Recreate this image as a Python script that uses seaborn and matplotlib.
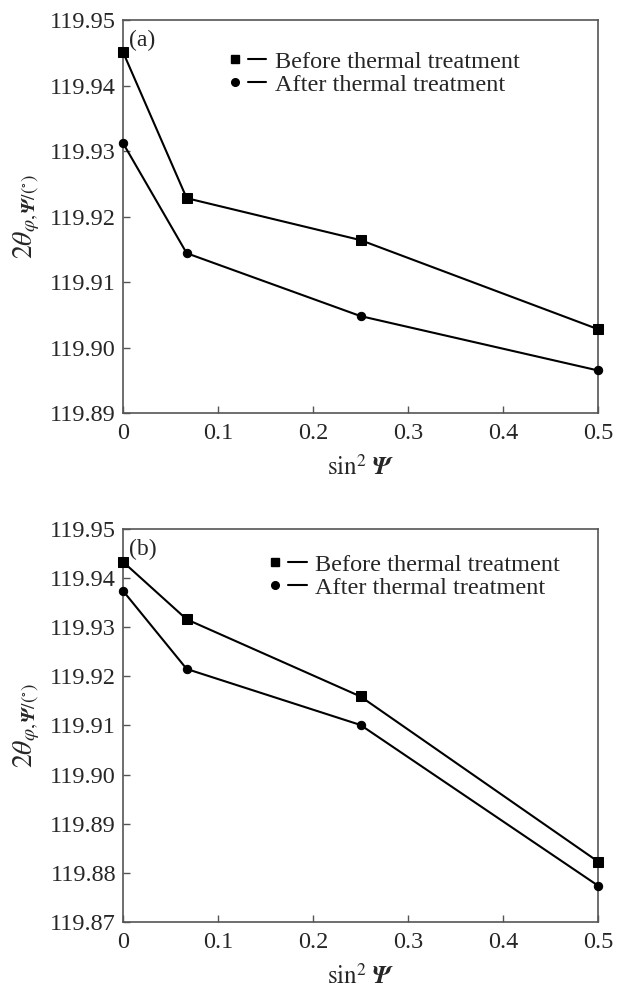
import matplotlib
matplotlib.use("Agg")
import matplotlib.pyplot as plt
import seaborn as sns
import pandas as pd
from matplotlib.lines import Line2D
from matplotlib.legend_handler import HandlerTuple

sns.set_theme(style="white")
plt.rcParams['font.family'] = ['Liberation Serif', 'DejaVu Serif']
plt.rcParams['mathtext.fontset'] = 'stix'

sin2psi = [0.0, 0.067, 0.25, 0.5]
a_before = [119.9451, 119.9228, 119.9164, 119.9028]
a_after = [119.9312, 119.9144, 119.9048, 119.8965]
b_before = [119.9433, 119.9316, 119.9159, 119.8823]
b_after = [119.9374, 119.9215, 119.9101, 119.8774]

series_labels = ["Before thermal treatment", "After thermal treatment"]
x_ticks = [0, 0.1, 0.2, 0.3, 0.4, 0.5]
x_ticklabels = ["0", "0.1", "0.2", "0.3", "0.4", "0.5"]
a_yticks = [119.89, 119.90, 119.91, 119.92, 119.93, 119.94, 119.95]
b_yticks = [119.87, 119.88, 119.89, 119.90, 119.91, 119.92, 119.93, 119.94, 119.95]
panel_tags = ["(a)", "(b)"]

fig = plt.figure(figsize=(6.29, 9.9), dpi=100)
ax1 = fig.add_axes([0.1956, 0.5828, 0.7551, 0.3970])
ax2 = fig.add_axes([0.1956, 0.0687, 0.7551, 0.3970])

markers = {series_labels[0]: 's', series_labels[1]: 'o'}
sizes_ms = {series_labels[0]: 6.5, series_labels[1]: 6.0}

def draw(ax, before, after, yticks, tag, leg_anchor):
    df = pd.DataFrame({
        "x": sin2psi * 2,
        "y": before + after,
        "s": [series_labels[0]] * 4 + [series_labels[1]] * 4,
    })
    for lab in series_labels:
        sub = df[df.s == lab]
        sns.lineplot(data=sub, x="x", y="y", ax=ax, color="black", lw=1.5,
                     marker=markers[lab], markersize=sizes_ms[lab],
                     markeredgecolor="black", markerfacecolor="black",
                     clip_on=False, legend=False, zorder=3)
    ax.set_xlim(0, 0.5)
    ax.set_ylim(yticks[0], yticks[-1])
    ax.set_xticks(x_ticks)
    ax.set_xticklabels(x_ticklabels)
    ax.set_yticks(yticks)
    ax.set_yticklabels([f"{v:.2f}" for v in yticks])
    ax.tick_params(axis="both", which="both", direction="in", length=5, width=1,
                   color="#555555", labelsize=17.5, left=True, bottom=True,
                   top=False, right=False)
    ax.tick_params(axis="x", pad=7)
    ax.tick_params(axis="y", pad=5)
    for sp in ax.spines.values():
        sp.set_color("#555555")
        sp.set_linewidth(1.2)
    ax.set_xlabel(r"$\mathrm{sin}^{2}\ \mathbfit{\Psi}$", fontsize=18, labelpad=8)
    ax.set_ylabel(r"$2\theta_{\varphi,\mathbfit{\Psi}/(^{\circ})}$", fontsize=20, labelpad=6)
    ax.text(0.012, 0.975, tag, transform=ax.transAxes, ha="left", va="top", fontsize=17)
    handles = []
    for lab in series_labels:
        m = Line2D([], [], ls="none", marker=markers[lab], color="black",
                   markersize=sizes_ms[lab] - 0.5)
        l = Line2D([], [], color="black", lw=1.5)
        handles.append((m, l))
    ax.legend(handles, series_labels, handler_map={tuple: HandlerTuple(ndivide=None, pad=0.15)},
              loc="upper left", bbox_to_anchor=leg_anchor, frameon=False,
              fontsize=17.5, handlelength=1.7, handletextpad=0.35, labelspacing=0.05,
              borderaxespad=0, borderpad=0)

draw(ax1, a_before, a_after, a_yticks, panel_tags[0], (0.215, 0.922))
draw(ax2, b_before, b_after, b_yticks, panel_tags[1], (0.300, 0.937))

fig.savefig("out.png", dpi=100, facecolor="white")
